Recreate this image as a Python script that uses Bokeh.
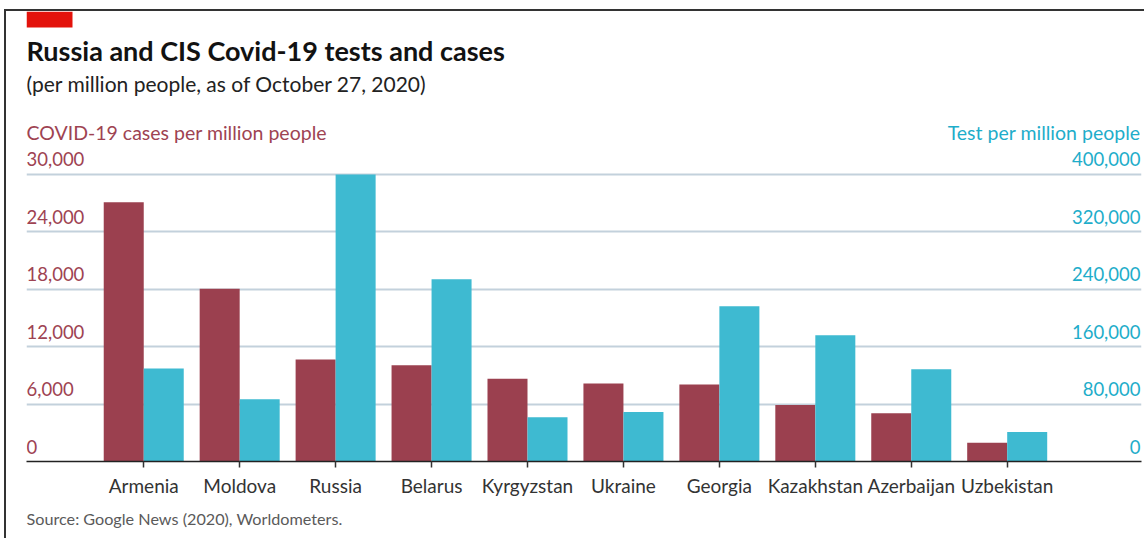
from bokeh.plotting import figure
from bokeh.models import (Range1d, FixedTicker, Grid, Label, BoxAnnotation,
                          ColumnDataSource, Title)
from bokeh.transform import dodge
from bokeh.embed import file_html
from bokeh.resources import INLINE

countries = ["Armenia", "Moldova", "Russia", "Belarus", "Kyrgyzstan",
             "Ukraine", "Georgia", "Kazakhstan", "Azerbaijan", "Uzbekistan"]
cases = [27100, 18050, 10650, 10050, 8650, 8150, 8050, 5900, 5050, 1950]
tests = [129500, 86900, 400000, 253900, 61600, 69000, 216200, 176000, 128700, 41000]

case_ticks = [0, 6000, 12000, 18000, 24000, 30000]
case_tick_labels = ["0", "6,000", "12,000", "18,000", "24,000", "30,000"]
test_ticks = [0, 80000, 160000, 240000, 320000, 400000]
test_tick_labels = ["0", "80,000", "160,000", "240,000", "320,000", "400,000"]

title = "Russia and CIS Covid-19 tests and cases"
subtitle = "(per million people, as of October 27, 2020)"
left_title = "COVID-19 cases per million people"
right_title = "Test per million people"
source_note = "Source: Google News (2020), Worldometers."

MAROON = "#9B404F"
CYAN = "#3EBAD1"
MAROON_TXT = "#9E4352"
CYAN_TXT = "#1EADCA"
FONT = "Lato"

W, H = 1140, 529
ML, MR, MT, MB = 20, 5, 0, 79
FW = W - ML - MR
FH = H - MT - MB
Y_END = FH / 287.1 * 30000
X_START = -1.222
X_END = X_START + FW / 95.94

p = figure(width=W, height=H, output_backend="svg", toolbar_location=None,
           x_range=Range1d(X_START, X_END), y_range=Range1d(0, Y_END),
           y_axis_type=None,
           min_border_left=ML, min_border_right=MR,
           min_border_top=MT, min_border_bottom=MB)
p.extra_y_ranges = {"tests": Range1d(0, Y_END * 40 / 3)}
p.outline_line_color = None
p.background_fill_color = "white"
p.border_fill_color = "white"
p.xgrid.visible = False
p.styles = {"margin-left": "6px", "margin-top": "11px", "vertical-align": "top",
            "box-shadow": "-2px -2px 0 0 #333333"}

p.add_layout(Grid(dimension=1, ticker=FixedTicker(ticks=case_ticks[1:]),
                  grid_line_color="#C3D1DC", grid_line_width=2))

src = ColumnDataSource(dict(idx=list(range(len(countries))), cases=cases, tests=tests))
p.vbar(x=dodge("idx", -0.2085, range=p.x_range), top="cases", width=0.417,
       source=src, fill_color=MAROON, line_color=None)
p.vbar(x=dodge("idx", 0.2085, range=p.x_range), top="tests", width=0.417,
       source=src, y_range_name="tests", fill_color=CYAN, line_color=None)

ax = p.xaxis[0]
ax.ticker = FixedTicker(ticks=list(range(len(countries))))
ax.major_label_overrides = {i: c for i, c in enumerate(countries)}
ax.minor_tick_line_color = None
ax.major_tick_out = 6
ax.major_tick_in = 0
ax.axis_line_color = "#222222"
ax.axis_line_width = 1.5
ax.major_tick_line_color = "#333333"
ax.major_tick_line_width = 1.5
ax.major_label_text_font = FONT
ax.major_label_text_font_size = "19px"
ax.major_label_text_color = "#333333"
ax.major_label_standoff = 6

for t, lab in zip(case_ticks, case_tick_labels):
    p.add_layout(Label(x=0, x_units="screen", y=t, text=lab,
                       text_align="left", text_baseline="alphabetic", y_offset=15,
                       text_font=FONT, text_font_size="18.5px", text_color=MAROON_TXT))
for t, lab in zip(test_ticks, test_tick_labels):
    p.add_layout(Label(x=FW - 1, x_units="screen", y=t, y_range_name="tests", text=lab,
                       text_align="right", text_baseline="alphabetic", y_offset=15,
                       text_font=FONT, text_font_size="18.5px", text_color=CYAN_TXT))

p.add_layout(BoxAnnotation(left=0, right=46, top=450, bottom=434,
                           left_units="screen", right_units="screen",
                           top_units="screen", bottom_units="screen",
                           fill_color="#E3120B", fill_alpha=1, line_color=None))


def txt(x, y, s, size, color, align="left", style="normal"):
    p.add_layout(Label(x=x, y=y, x_units="screen", y_units="screen", text=s,
                       text_align=align, text_baseline="alphabetic",
                       text_font=FONT, text_font_size=size, text_color=color,
                       text_font_style=style))


txt(0, 411, title, "27px", "#121212", style="bold")
txt(0, 378, subtitle, "21px", "#222222")
txt(0, 329, left_title, "19.5px", MAROON_TXT)
txt(FW - 1, 329, right_title, "19.5px", CYAN_TXT, align="right")

p.add_layout(Title(text=source_note, align="left", text_font=FONT,
                   text_font_size="16.2px", text_font_style="normal",
                   text_color="#5A5A5A", standoff=14), "below")

open("out.html", "w").write(file_html(p, INLINE))
